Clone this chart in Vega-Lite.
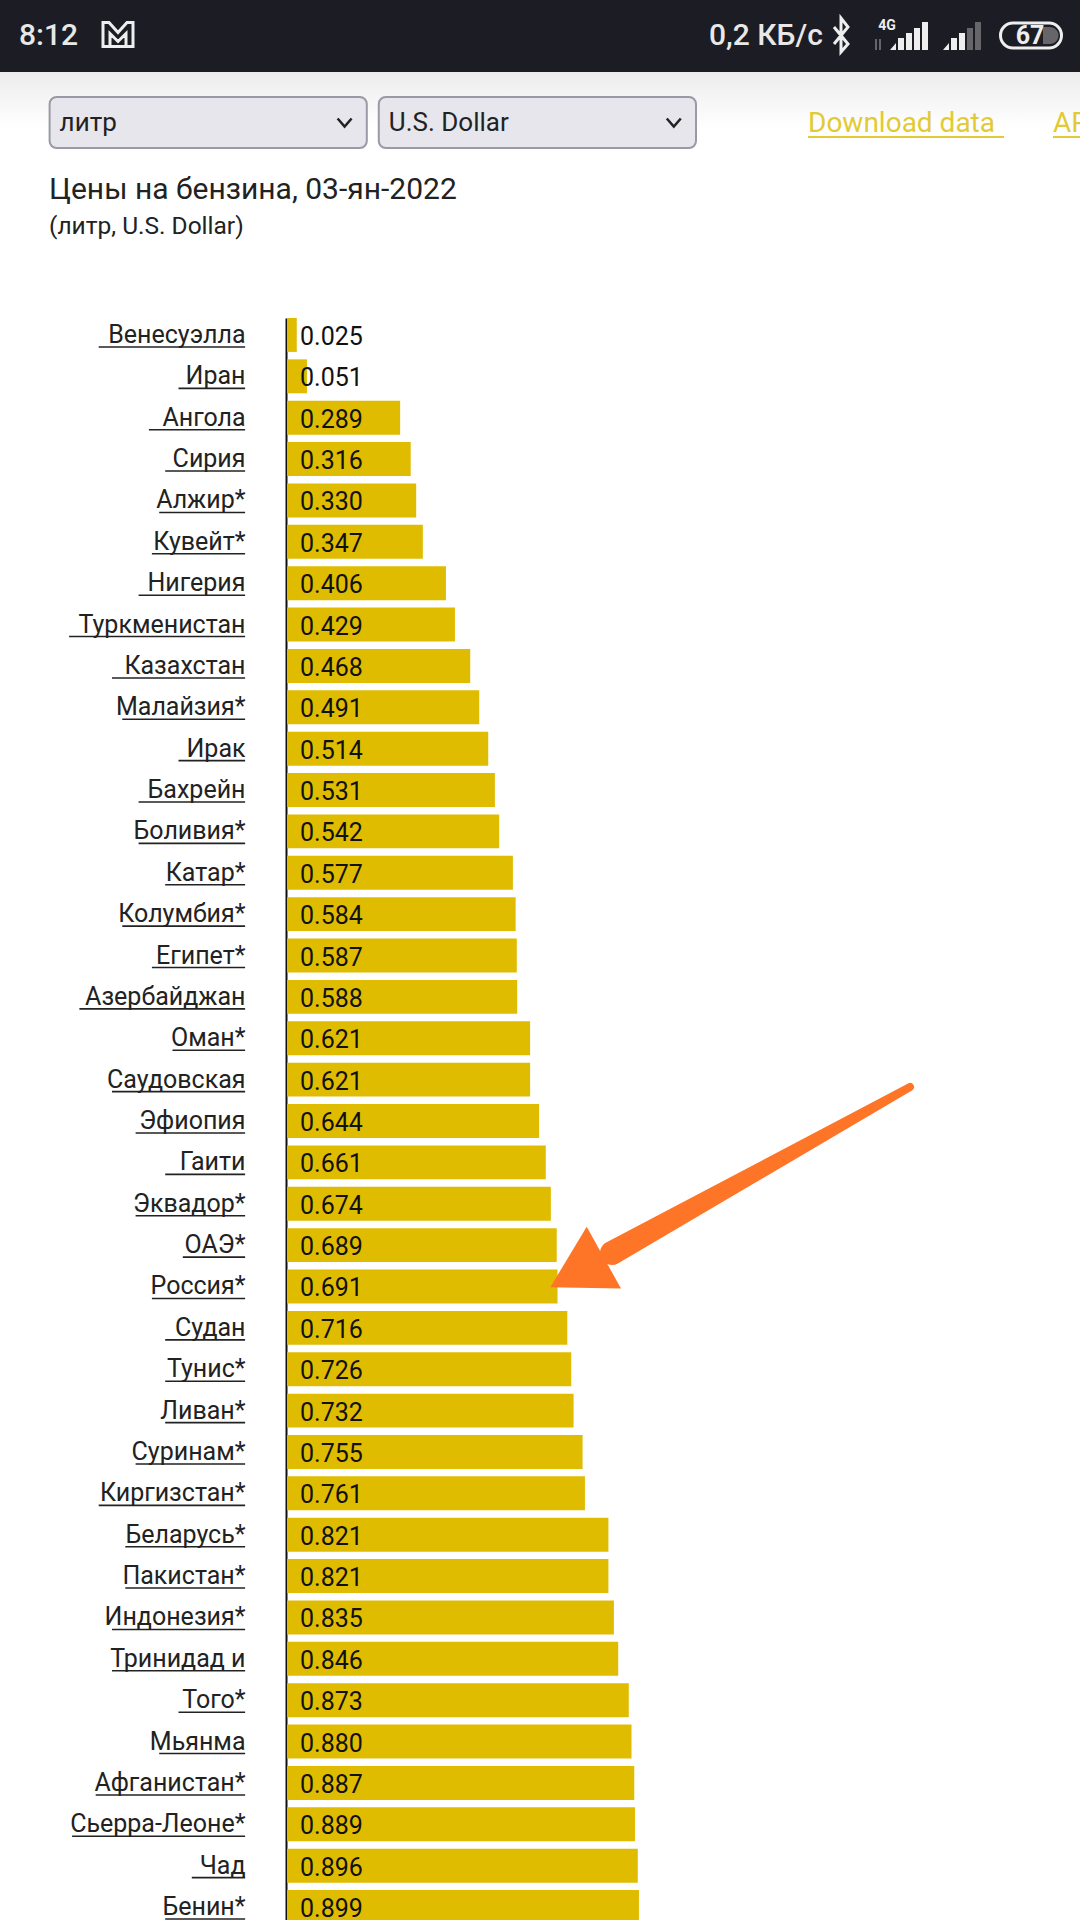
{
  "$schema": "https://vega.github.io/schema/vega-lite/v6.json",
  "width": 1080,
  "height": 1920,
  "padding": 0,
  "autosize": "none",
  "background": "white",
  "title": {
    "text": "Цены на бензина, 03-ян-2022",
    "subtitle": "(литр, U.S. Dollar)",
    "anchor": "start",
    "frame": "group",
    "orient": "top",
    "offset": -238,
    "dx": 49,
    "fontSize": 30,
    "fontWeight": "normal",
    "color": "#222222",
    "subtitleFontSize": 24.5,
    "subtitleColor": "#222222",
    "subtitlePadding": 10
  },
  "config": {"font": "Roboto", "view": {"stroke": null}},
  "datasets": {
    "prices": [
      {"Country": "Венесуэлла ", "price": 0.025},
      {"Country": "Иран ", "price": 0.051},
      {"Country": "Ангола ", "price": 0.289},
      {"Country": "Сирия ", "price": 0.316},
      {"Country": "Алжир*", "price": 0.33},
      {"Country": "Кувейт*", "price": 0.347},
      {"Country": "Нигерия ", "price": 0.406},
      {"Country": "Туркменистан ", "price": 0.429},
      {"Country": "Казахстан ", "price": 0.468},
      {"Country": "Малайзия*", "price": 0.491},
      {"Country": "Ирак ", "price": 0.514},
      {"Country": "Бахрейн ", "price": 0.531},
      {"Country": "Боливия*", "price": 0.542},
      {"Country": "Катар*", "price": 0.577},
      {"Country": "Колумбия*", "price": 0.584},
      {"Country": "Египет*", "price": 0.587},
      {"Country": "Азербайджан ", "price": 0.588},
      {"Country": "Оман*", "price": 0.621},
      {"Country": "Саудовская", "price": 0.621},
      {"Country": "Эфиопия ", "price": 0.644},
      {"Country": "Гаити ", "price": 0.661},
      {"Country": "Эквадор*", "price": 0.674},
      {"Country": "ОАЭ*", "price": 0.689},
      {"Country": "Россия*", "price": 0.691},
      {"Country": "Судан ", "price": 0.716},
      {"Country": "Тунис*", "price": 0.726},
      {"Country": "Ливан*", "price": 0.732},
      {"Country": "Суринам*", "price": 0.755},
      {"Country": "Киргизстан*", "price": 0.761},
      {"Country": "Беларусь*", "price": 0.821},
      {"Country": "Пакистан*", "price": 0.821},
      {"Country": "Индонезия*", "price": 0.835},
      {"Country": "Тринидад и", "price": 0.846},
      {"Country": "Того*", "price": 0.873},
      {"Country": "Мьянма", "price": 0.88},
      {"Country": "Афганистан*", "price": 0.887},
      {"Country": "Сьерра-Леоне*", "price": 0.889},
      {"Country": "Чад ", "price": 0.896},
      {"Country": "Бенин*", "price": 0.899}
    ]
  },
  "resolve": {"scale": {"x": "independent", "y": "independent", "shape": "independent", "size": "independent", "color": "independent"}},
  "layer": [
    {
      "data": {"values": [{"band": "status"}]},
      "mark": {"type": "rect", "color": "#1c1c24"},
      "encoding": {
        "y": {"field": "band", "type": "nominal", "axis": null, "scale": {"domain": ["status"], "range": [0, 72], "paddingInner": 0, "paddingOuter": 0}}
      }
    },
    {
      "data": {"values": [{"band": "shade"}]},
      "mark": {
        "type": "rect",
        "color": {"gradient": "linear", "x1": 0, "y1": 0, "x2": 0, "y2": 1, "stops": [{"offset": 0, "color": "#ececec"}, {"offset": 1, "color": "#ffffff"}]}
      },
      "encoding": {
        "y": {"field": "band", "type": "nominal", "axis": null, "scale": {"domain": ["shade"], "range": [72, 128], "paddingInner": 0, "paddingOuter": 0}}
      }
    },
    {
      "data": {"values": [{"label": "8:12"}, {"label": "0,2 КБ/с"}]},
      "mark": {"type": "text", "align": "left", "baseline": "middle", "fontSize": 30, "fontWeight": 500, "color": "#e8e8e8"},
      "encoding": {
        "x": {"field": "label", "type": "nominal", "axis": null, "scale": {"type": "point", "domain": ["8:12", "0,2 КБ/с"], "range": [19, 709], "padding": 0}},
        "y": {"datum": "status", "type": "nominal", "axis": null, "scale": {"type": "point", "domain": ["status"], "range": [36, 36]}},
        "text": {"field": "label"}
      }
    },
    {
      "data": {"values": [{"label": "4G"}, {"label": "67"}]},
      "mark": {"type": "text", "align": "center", "baseline": "middle", "fontWeight": "bold", "color": "#eeeeee"},
      "encoding": {
        "x": {"field": "label", "type": "nominal", "axis": null, "scale": {"type": "point", "domain": ["4G", "67"], "range": [887, 1030], "padding": 0}},
        "y": {"field": "label", "type": "nominal", "axis": null, "scale": {"type": "point", "domain": ["4G", "67"], "range": [26, 36], "padding": 0}},
        "size": {"field": "label", "type": "nominal", "legend": null, "scale": {"domain": ["4G", "67"], "range": [14, 25]}},
        "text": {"field": "label"}
      }
    },
    {
      "data": {"values": [{"icon": "solid"}, {"icon": "dim"}]},
      "mark": {"type": "point", "filled": true, "size": 4, "opacity": 1, "strokeWidth": 0},
      "encoding": {
        "x": {"datum": "icons", "type": "nominal", "axis": null, "scale": {"type": "point", "domain": ["icons"], "range": [540, 540]}},
        "y": {"datum": "icons", "type": "nominal", "axis": null, "scale": {"type": "point", "domain": ["icons"], "range": [35, 35]}},
        "shape": {
          "field": "icon",
          "type": "nominal",
          "legend": null,
          "scale": {
            "domain": ["solid", "dim"],
            "range": [
              "M350,15L356,15L356,8ZM358,15V3H364V15ZM366,15V-2H372V15ZM374,15V-7H380V15ZM382,15V-13H388V15ZM403,15L409,15L409,8ZM411,15V3H417V15ZM419,15V-2H425V15Z",
              "M427,15V-7H433V15ZM435,15V-13H441V15ZM335,4H337V15H335ZM339,4H341V15H339ZM503,-8H510A8.5,8.5 0 0 1 510,9H503Z"
            ]
          }
        },
        "color": {"field": "icon", "type": "nominal", "legend": null, "scale": {"domain": ["solid", "dim"], "range": ["#eeeeee", "#66666a"]}}
      }
    },
    {
      "data": {"values": [{"icon": "outline"}]},
      "mark": {"type": "point", "filled": false, "size": 4, "opacity": 1, "strokeWidth": 3, "color": "#eeeeee"},
      "encoding": {
        "x": {"datum": "icons", "type": "nominal", "axis": null, "scale": {"type": "point", "domain": ["icons"], "range": [540, 540]}},
        "y": {"datum": "icons", "type": "nominal", "axis": null, "scale": {"type": "point", "domain": ["icons"], "range": [35, 35]}},
        "shape": {
          "field": "icon",
          "type": "nominal",
          "legend": null,
          "scale": {
            "domain": ["outline"],
            "range": ["M-437,11.5L-437,-12.5L-431,-12.5L-422,-2.5L-413,-12.5L-407,-12.5L-407,11.5ZM-430,11.5L-430,-1.5L-422,6.5L-414,-1.5L-414,11.5M294,-8L308,9L301,17L301,-17L308,-8L294,9M473,-12H509A12.5,12.5 0 0 1 509,13H473A12.5,12.5 0 0 1 473,-12Z"]
          }
        }
      }
    },
    {
      "data": {"values": [{"choice": "литр"}, {"choice": "U.S. Dollar"}]},
      "encoding": {
        "x": {"field": "choice", "type": "nominal", "axis": null, "scale": {"type": "band", "domain": ["литр", "U.S. Dollar"], "range": [49.6, 696], "paddingInner": 0.0364, "paddingOuter": 0}},
        "y": {"datum": "controls", "type": "nominal", "axis": null, "scale": {"type": "band", "domain": ["controls"], "range": [97, 148], "paddingInner": 0, "paddingOuter": 0}}
      },
      "layer": [
        {"mark": {"type": "rect", "fill": "#e6e6ec", "stroke": "#9a9aa6", "strokeWidth": 2, "cornerRadius": 7}},
        {
          "mark": {"type": "text", "align": "left", "baseline": "middle", "dx": 10, "fontSize": 26, "color": "#222222"},
          "encoding": {
            "x": {"field": "choice", "type": "nominal", "bandPosition": 0, "axis": null},
            "text": {"field": "choice"}
          }
        },
        {
          "mark": {"type": "point", "filled": false, "size": 4, "opacity": 1, "strokeWidth": 2.5, "color": "#222222", "shape": "M-7,-4L0,4L7,-4"},
          "encoding": {
            "x": {"field": "choice", "type": "nominal", "bandPosition": 0.93, "axis": null}
          }
        }
      ]
    },
    {
      "data": {"values": [{"link": "Download data"}, {"link": "AP"}]},
      "encoding": {
        "x": {"field": "link", "type": "nominal", "axis": null, "scale": {"type": "band", "domain": ["Download data", "AP"], "range": [808, 1249], "paddingInner": 0.2, "paddingOuter": 0}},
        "color": {"value": "#e2ca35"}
      },
      "layer": [
        {
          "mark": {"type": "text", "align": "left", "baseline": "middle", "fontSize": 28},
          "encoding": {
            "x": {"field": "link", "type": "nominal", "bandPosition": 0, "axis": null},
            "y": {"datum": "links", "type": "nominal", "axis": null, "scale": {"type": "point", "domain": ["links"], "range": [124, 124]}},
            "text": {"field": "link"}
          }
        }
      ]
    },
    {
      "data": {"values": [{"link": "Download data"}, {"link": "AP"}]},
      "mark": {"type": "rect", "color": "#e2ca35"},
      "encoding": {
        "x": {"field": "link", "type": "nominal", "axis": null, "scale": {"type": "band", "domain": ["Download data", "AP"], "range": [808, 1249], "paddingInner": 0.2, "paddingOuter": 0}},
        "y": {"datum": "underline", "type": "nominal", "axis": null, "scale": {"type": "band", "domain": ["underline"], "range": [136, 138], "paddingInner": 0, "paddingOuter": 0}}
      }
    },
    {
      "data": {"name": "prices"},
      "transform": [
        {"calculate": "-(42 + 13.3 * length(datum.Country) + 3 * length(replace(datum.Country, /[^мОАЭМшжыю]/g, ''))) / 391.5", "as": "underline_from"}
      ],
      "encoding": {
        "y": {
          "field": "Country",
          "type": "nominal",
          "sort": null,
          "title": null,
          "scale": {"range": [318, 1924], "paddingInner": 0.18, "paddingOuter": 0},
          "axis": {
            "offset": -286,
            "domainColor": "#111111",
            "domainWidth": 2,
            "ticks": false,
            "grid": false,
            "labelPadding": 41,
            "labelFontSize": 25,
            "labelColor": "#222222",
            "labelLimit": 300,
            "labelOverlap": false
          }
        }
      },
      "layer": [
        {
          "mark": {"type": "bar", "color": "#e0bc00"},
          "encoding": {
            "x": {"field": "price", "type": "quantitative", "axis": null, "scale": {"domain": [0, 1], "range": [287, 678.5], "nice": false}}
          }
        },
        {
          "mark": {"type": "rule", "color": "#222222", "strokeWidth": 1.6, "yOffset": 12},
          "encoding": {
            "x": {"field": "underline_from", "type": "quantitative", "axis": null},
            "x2": {"datum": -0.107}
          }
        },
        {
          "mark": {"type": "text", "align": "left", "baseline": "middle", "dx": 13, "dy": 2, "fontSize": 25, "color": "#111111"},
          "encoding": {
            "x": {"datum": 0, "type": "quantitative", "axis": null},
            "text": {"field": "price", "type": "quantitative", "format": ".3f"}
          }
        }
      ]
    },
    {
      "data": {"values": [{"part": "tail"}, {"part": "neck"}]},
      "mark": {"type": "trail", "color": "#ff7527"},
      "encoding": {
        "x": {"field": "part", "type": "nominal", "axis": null, "scale": {"type": "point", "domain": ["tail", "neck"], "range": [910, 612], "padding": 0}},
        "y": {"field": "part", "type": "nominal", "axis": null, "scale": {"type": "point", "domain": ["tail", "neck"], "range": [1087, 1253], "padding": 0}},
        "size": {"field": "part", "type": "nominal", "legend": null, "scale": {"domain": ["tail", "neck"], "range": [8, 24]}}
      }
    },
    {
      "data": {"values": [{"part": "head"}]},
      "mark": {"type": "point", "shape": "triangle", "filled": true, "opacity": 1, "size": 5000, "angle": 241, "strokeWidth": 0, "color": "#ff7527"},
      "encoding": {
        "x": {"field": "part", "type": "nominal", "axis": null, "scale": {"type": "point", "domain": ["head"], "range": [586, 586]}},
        "y": {"field": "part", "type": "nominal", "axis": null, "scale": {"type": "point", "domain": ["head"], "range": [1267.5, 1267.5]}}
      }
    }
  ]
}
